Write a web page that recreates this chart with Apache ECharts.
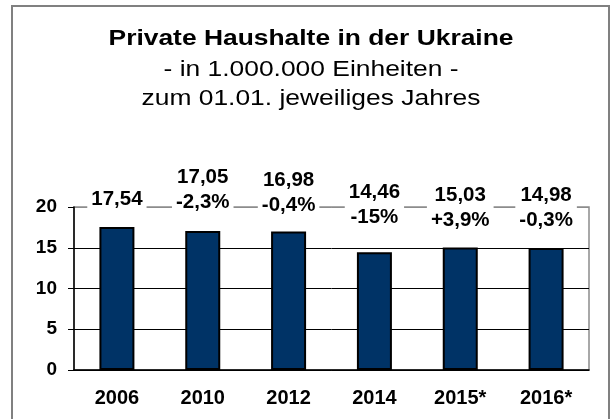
<!DOCTYPE html>
<html>
<head>
<meta charset="utf-8">
<script src="https://cdn.jsdelivr.net/npm/echarts@6/dist/echarts.min.js"></script>
<style>
  html, body { margin: 0; padding: 0; background: #fff; }
  #main { width: 614px; height: 419px; }
</style>
</head>
<body>
<div id="main"></div>
<script>
  const years = ['2006', '2010', '2012', '2014', '2015*', '2016*']
  const households = [17.54, 17.05, 16.98, 14.46, 15.03, 14.98]
  const changes = ['', '-2,3%', '-0,4%', '-15%', '+3,9%', '-0,3%']
  const titleLines = ['Private Haushalte in der Ukraine', '- in 1.000.000 Einheiten -', 'zum 01.01. jeweiliges Jahres']
  // extra lift of each label above the bar (px), the labels are placed by hand in the original
  const labelLift = [0, 1, -1, 7, 0, 0]

  const font = '"Liberation Sans", Arial, sans-serif'
  var myChart = echarts.init(document.getElementById('main'))

  var fmt = function (v) {
    return v.toFixed(2).replace('.', ',')
  }

  // title text is a bit wider than high in the original, so stretch it
  var titleText = function (txt, y, bold) {
    return {
      type: 'text',
      x: 311,
      y: y,
      scaleX: 1.2,
      silent: true,
      style: {
        text: txt,
        fontFamily: font,
        fontSize: 22,
        fontWeight: bold ? 'bold' : 'normal',
        fill: '#000',
        align: 'center',
        verticalAlign: 'middle'
      }
    }
  }

  var option = {
    animation: false,
    backgroundColor: '#fff',
    graphic: [{
      type: 'rect',
      shape: { x: 12, y: 6, width: 597, height: 450 },
      style: { fill: 'none', stroke: '#808080', lineWidth: 2 },
      silent: true
    },
    titleText(titleLines[0], 39, true),
    titleText(titleLines[1], 70, false),
    titleText(titleLines[2], 98.5, false)
    ],
    grid: {
      left: 74,
      right: 25,
      top: 207,
      bottom: 49,
      show: true,
      borderColor: '#8c8c8c',
      borderWidth: 1.5
    },
    xAxis: {
      type: 'category',
      data: years,
      axisLine: { lineStyle: { color: '#000', width: 1.5 } },
      axisTick: { inside: true, length: 6, lineStyle: { color: '#000' } },
      axisLabel: {
        fontFamily: font,
        fontWeight: 'bold',
        fontSize: 20,
        color: '#000',
        margin: 18
      }
    },
    yAxis: {
      type: 'value',
      min: 0,
      max: 20,
      interval: 5,
      axisLine: { show: true, lineStyle: { color: '#000', width: 1.5 } },
      axisTick: { show: true, length: 6, lineStyle: { color: '#000' } },
      axisLabel: {
        fontFamily: font,
        fontWeight: 'bold',
        fontSize: 19,
        color: '#000',
        margin: 17
      },
      splitLine: {
        show: true,
        lineStyle: { color: ['#000', '#000', '#000', '#000', '#8c8c8c'], width: 1 }
      }
    },
    series: [{
      type: 'bar',
      barWidth: 35,
      data: households.map(function (v, i) {
        return {
          value: v,
          label: { offset: [0, -labelLift[i]] }
        }
      }),
      itemStyle: {
        color: '#003366',
        borderColor: '#000',
        borderWidth: 2
      },
      label: {
        show: true,
        position: 'top',
        distance: 15,
        fontFamily: font,
        fontWeight: 'bold',
        fontSize: 20.5,
        lineHeight: 25,
        color: '#000',
        backgroundColor: '#fff',
        padding: [0, 4],
        formatter: function (p) {
          var c = changes[p.dataIndex]
          return c ? fmt(p.value) + '\n' + c : fmt(p.value)
        }
      }
    }]
  }
  myChart.setOption(option)
</script>
</body>
</html>
